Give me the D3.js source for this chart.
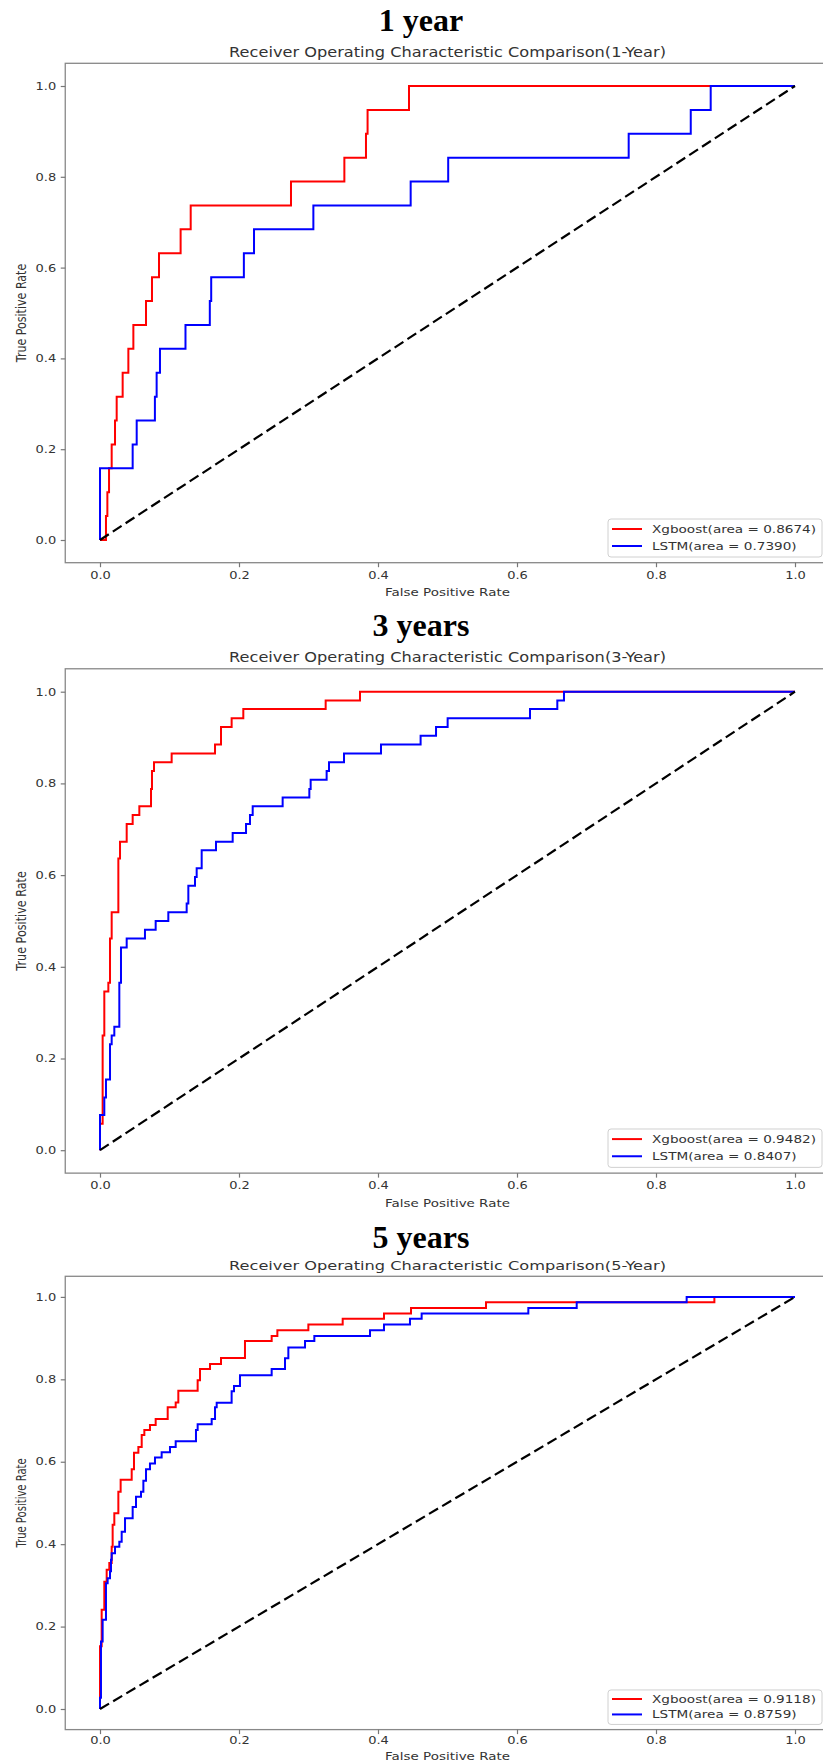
<!DOCTYPE html>
<html>
<head>
<meta charset="utf-8">
<script src="https://cdn.jsdelivr.net/npm/d3@7"></script>
<style>
body { margin: 0; background: #fff; }
text { font-family: "DejaVu Sans", sans-serif; }
</style>
</head>
<body>
<div id="chart"></div>
<script>
// ROC step points [fpr, tpr]: each point is where the curve rises (drawn with curveStepAfter)
var xgb1Year = [[0,0],[0.0086,0.0526],[0.0106,0.1053],[0.013,0.1579],[0.0168,0.2105],[0.0216,0.2632],[0.024,0.3158],[0.0326,0.3684],[0.0408,0.4211],[0.048,0.4737],[0.0662,0.5263],[0.0748,0.5789],[0.0849,0.6316],[0.116,0.6842],[0.1305,0.7368],[0.2748,0.7895],[0.3516,0.8421],[0.3827,0.8947],[0.385,0.9474],[0.4446,1],[1,1]];
var lstm1Year = [[0,0],[0,0.1579],[0.047,0.2105],[0.0528,0.2632],[0.079,0.3158],[0.0815,0.3684],[0.0863,0.4211],[0.123,0.4737],[0.158,0.5263],[0.16,0.5789],[0.207,0.6316],[0.2216,0.6842],[0.307,0.7368],[0.447,0.7895],[0.501,0.8421],[0.7607,0.8947],[0.85,0.9474],[0.8787,1],[1,1]];

var xgb3Year = [[0,0],[0,0.0577],[0.0038,0.25],[0.0062,0.346],[0.012,0.365],[0.0144,0.4615],[0.0168,0.519],[0.0264,0.636],[0.0288,0.673],[0.0384,0.7115],[0.047,0.731],[0.0566,0.75],[0.0734,0.788],[0.0748,0.827],[0.0777,0.846],[0.1031,0.865],[0.1655,0.885],[0.1741,0.923],[0.1894,0.942],[0.2062,0.962],[0.3247,0.981],[0.3741,1],[1,1]];
var lstm3Year = [[0,0],[0,0.077],[0.0062,0.115],[0.0086,0.154],[0.0144,0.231],[0.0168,0.25],[0.0206,0.269],[0.0278,0.365],[0.0302,0.442],[0.0384,0.4615],[0.0647,0.481],[0.0801,0.5],[0.0983,0.519],[0.1247,0.538],[0.1271,0.577],[0.1367,0.596],[0.1391,0.615],[0.1463,0.654],[0.1669,0.673],[0.1909,0.692],[0.2101,0.7115],[0.2158,0.731],[0.2197,0.75],[0.2628,0.769],[0.3012,0.788],[0.3031,0.808],[0.3261,0.827],[0.3295,0.846],[0.3511,0.865],[0.4043,0.885],[0.4613,0.904],[0.4835,0.923],[0.5002,0.942],[0.6187,0.962],[0.658,0.981],[0.6676,1],[1,1]];

var xgb5Year = [[0,0],[0,0.152],[0.0024,0.241],[0.0062,0.309],[0.0096,0.338],[0.0134,0.354],[0.0168,0.394],[0.0182,0.447],[0.0206,0.475],[0.0264,0.527],[0.0297,0.556],[0.0456,0.582],[0.0489,0.622],[0.0552,0.636],[0.06,0.665],[0.0638,0.677],[0.0719,0.689],[0.0801,0.704],[0.0974,0.732],[0.1089,0.744],[0.1127,0.772],[0.1405,0.798],[0.1439,0.825],[0.1583,0.837],[0.1741,0.852],[0.2086,0.893],[0.247,0.905],[0.2552,0.919],[0.2998,0.933],[0.3492,0.947],[0.4086,0.96],[0.4475,0.973],[0.5554,0.987],[0.884,1],[1,1]];
var lstm5Year = [[0,0],[0,0.027],[0.0014,0.164],[0.0038,0.2165],[0.0086,0.305],[0.011,0.317],[0.0144,0.334],[0.0158,0.362],[0.0168,0.378],[0.0216,0.394],[0.0278,0.406],[0.0312,0.43],[0.036,0.463],[0.047,0.49],[0.0518,0.515],[0.059,0.527],[0.0624,0.554],[0.0662,0.582],[0.0719,0.596],[0.0791,0.61],[0.0887,0.623],[0.1007,0.636],[0.1089,0.65],[0.1381,0.677],[0.1405,0.691],[0.1607,0.704],[0.1655,0.732],[0.1679,0.743],[0.1894,0.771],[0.1928,0.784],[0.2014,0.81],[0.247,0.825],[0.2662,0.851],[0.271,0.877],[0.295,0.893],[0.3084,0.905],[0.3885,0.919],[0.4086,0.933],[0.446,0.947],[0.4628,0.96],[0.6163,0.973],[0.6859,0.987],[0.8441,1],[1,1]];

var xgbCurves = [xgb1Year, xgb3Year, xgb5Year];
var lstmCurves = [lstm1Year, lstm3Year, lstm5Year];
var xgbAuc = [0.8674, 0.9482, 0.9118];
var lstmAuc = [0.7390, 0.8407, 0.8759];
var seriesNames = ["Xgboost", "LSTM"];
var panelTitles = ["1 year", "3 years", "5 years"];
var periods = ["1-Year", "3-Year", "5-Year"];
var tickValues = [0, 0.2, 0.4, 0.6, 0.8, 1.0];

var width = 823, height = 1764;

// pixel rows of tpr=1 / tpr=0 and the heading baselines for each panel
var layout = [
  {top: 86, bottom: 540, head: 30.5, sub: 56.7},
  {top: 691.7, bottom: 1150.2, head: 636, sub: 662},
  {top: 1296.9, bottom: 1709, head: 1247.5, sub: 1270}
];

var svg = d3.select("#chart").append("svg")
    .attr("width", width)
    .attr("height", height)
    .style("display", "block");

var x = d3.scaleLinear()
    .domain([0, 1])
    .range([100, 795]);

// text squeezed vertically like the source image
function flatText(g, px, py, str, size, k, anchor) {
  return g.append("text")
    .attr("transform", "translate(" + px + "," + py + ") scale(1," + k + ")")
    .attr("text-anchor", anchor || "middle")
    .style("font-size", size + "px")
    .style("fill", "#333")
    .text(str);
}

layout.forEach(function(p, i) {
  var s = (p.bottom - p.top) / 454,
      k = 0.82 * s;

  var y = d3.scaleLinear()
    .domain([0, 1])
    .range([p.bottom, p.top]);

  var left = x(-0.05), right = x(1.05), top = y(1.05), bottom = y(-0.05);
  var g = svg.append("g");

  // big heading
  g.append("text")
    .attr("x", 421)
    .attr("y", p.head)
    .attr("text-anchor", "middle")
    .style("font-family", "'Liberation Serif', 'Times New Roman', serif")
    .style("font-weight", "bold")
    .style("font-size", "32px")
    .style("fill", "#000")
    .text(panelTitles[i]);

  flatText(g, (left + right) / 2, p.sub,
    "Receiver Operating Characteristic Comparison(" + periods[i] + ")", 16.2, k);

  // frame
  g.append("rect")
    .attr("x", left)
    .attr("y", top)
    .attr("width", right - left)
    .attr("height", bottom - top)
    .attr("fill", "none")
    .attr("stroke", "#888")
    .attr("stroke-width", 1.3);

  var xAxis = d3.axisBottom(x)
    .tickValues(tickValues)
    .tickFormat(d3.format(".1f"))
    .tickSizeInner(4.5)
    .tickSizeOuter(0);

  var yAxis = d3.axisLeft(y)
    .tickValues(tickValues)
    .tickFormat(d3.format(".1f"))
    .tickSizeInner(4.5)
    .tickSizeOuter(0)
    .tickPadding(4.5);

  var gx = g.append("g")
    .attr("transform", "translate(0," + bottom + ")")
    .call(xAxis);
  var gy = g.append("g")
    .attr("transform", "translate(" + left + ",0)")
    .call(yAxis);

  [gx, gy].forEach(function(a) {
    a.select(".domain").remove();
    a.attr("font-family", null).attr("font-size", null);
    a.selectAll(".tick line").attr("stroke", "#777").attr("stroke-width", 1.2);
    a.selectAll(".tick text").style("font-size", "13px").attr("fill", "#333");
  });
  gx.selectAll(".tick text")
    .attr("y", null)
    .attr("dy", null)
    .attr("transform", "translate(0," + (16.2 * s) + ") scale(1," + k + ")");
  gy.selectAll(".tick text")
    .attr("transform", "scale(1," + k + ")");

  flatText(g, (left + right) / 2, bottom + 33.3 * s, "False Positive Rate", 13.45, k);

  g.append("text")
    .attr("transform", "translate(26," + ((top + bottom) / 2) + ") rotate(-90) scale(" + k + ",1)")
    .attr("text-anchor", "middle")
    .style("font-size", "13.5px")
    .style("fill", "#333")
    .text("True Positive Rate");

  var line = d3.line()
    .x(function(d) { return x(d[0]); })
    .y(function(d) { return y(d[1]); })
    .curve(d3.curveStepAfter);

  g.append("path")
    .attr("d", line(xgbCurves[i]))
    .attr("fill", "none")
    .attr("stroke", "red")
    .attr("stroke-width", 2);

  g.append("path")
    .attr("d", line(lstmCurves[i]))
    .attr("fill", "none")
    .attr("stroke", "blue")
    .attr("stroke-width", 2);

  g.append("path")
    .attr("d", d3.line().x(function(d) { return x(d); }).y(function(d) { return y(d); })([0, 1]))
    .attr("fill", "none")
    .attr("stroke", "#000")
    .attr("stroke-width", 2.2)
    .attr("stroke-dasharray", "10.5,4.8");

  // legend, lower right
  var lg = g.append("g");
  lg.append("rect")
    .attr("x", 608)
    .attr("y", bottom - 43.7 * s)
    .attr("width", 214)
    .attr("height", 38 * s)
    .attr("rx", 3)
    .attr("fill", "#fff")
    .attr("fill-opacity", 0.8)
    .attr("stroke", "#d0d0d0");

  [["red", seriesNames[0], xgbAuc[i]], ["blue", seriesNames[1], lstmAuc[i]]].forEach(function(e, j) {
    var ry = bottom - (33.7 - 17 * j) * s;
    lg.append("line")
      .attr("x1", 612).attr("x2", 642)
      .attr("y1", ry).attr("y2", ry)
      .attr("stroke", e[0])
      .attr("stroke-width", 2);
    flatText(lg, 652, ry + 4.1 * s, e[1] + "(area = " + d3.format(".4f")(e[2]) + ")", 13.6, k, "start");
  });
});
</script>
</body>
</html>
